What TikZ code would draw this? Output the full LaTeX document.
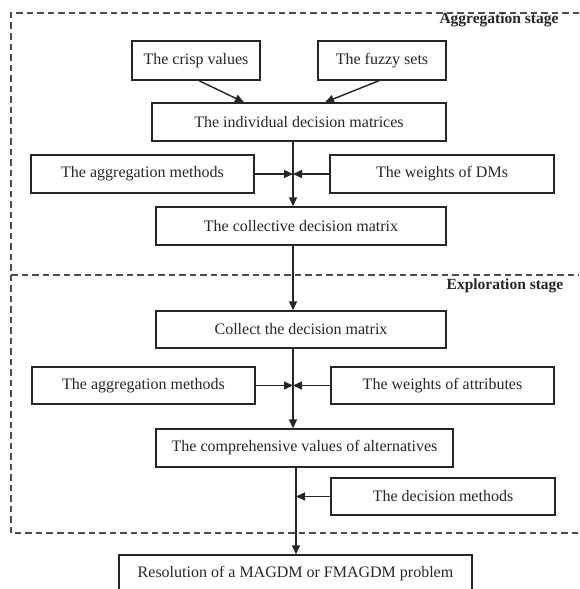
\documentclass[tikz,border=0pt]{standalone}
\usepackage{fontspec}
\setmainfont{Liberation Serif}
\usetikzlibrary{arrows.meta}
\begin{document}
\begin{tikzpicture}[x=1pt,y=-1pt,
  box/.style={draw=black!85, line width=1.4pt, inner sep=0pt, text=black!85, font=\fontsize{16}{18}\selectfont},
  conn/.style={line width=1.4pt, draw=black!85, -{Triangle[length=9pt,width=8pt]}},
  frame/.style={draw=black!70, line width=1.2pt, dash pattern=on 6.5pt off 4pt},
  stage/.style={font=\fontsize{15.5}{18}\selectfont\bfseries, text=black!85, inner sep=0pt, anchor=base}]
\useasboundingbox (0,0) rectangle (579,589);
% dashed stage frames
\draw[frame] (579,13) -- (11,13) -- (11,533) -- (579,533);
\draw[frame] (11,275) -- (579,275);
\node[stage] (aglab) at (499,23.5) {Aggregation stage};
\node[stage] (exlab) at (505,289) {Exploration stage};
% boxes
\node[box, minimum width=128pt, minimum height=39pt] (crisp) at (196,60.5) {The crisp values};
\node[box, minimum width=128pt, minimum height=39pt] (fuzzy) at (382,60.5) {The fuzzy sets};
\node[box, minimum width=294pt, minimum height=38pt] (indiv) at (299,122) {The individual decision matrices};
\node[box, minimum width=223pt, minimum height=38pt] (agg1) at (142.5,174) {The aggregation methods};
\node[box, minimum width=224pt, minimum height=38pt] (wdm) at (442,174) {The weights of DMs};
\node[box, minimum width=290pt, minimum height=38pt] (coll) at (301,226) {The collective decision matrix};
\node[box, minimum width=290pt, minimum height=37pt] (collect) at (301,329.5) {Collect the decision matrix};
\node[box, minimum width=223pt, minimum height=37pt] (agg2) at (143.5,385.5) {The aggregation methods};
\node[box, minimum width=223pt, minimum height=37pt] (watt) at (442.5,385.5) {The weights of attributes};
\node[box, minimum width=297pt, minimum height=38pt] (comp) at (304.5,448) {The comprehensive values of alternatives};
\node[box, minimum width=224pt, minimum height=37pt] (dec) at (443,496.5) {The decision methods};
\node[box, minimum width=353pt, minimum height=38pt] (res) at (295.5,574) {Resolution of a MAGDM or FMAGDM problem};
% spines
\coordinate (s1) at (293,0);
\coordinate (s3) at (296,0);
% connectors
\draw[conn] ([xshift=3pt]crisp.south) -- ([xshift=-55pt]indiv.north);
\draw[conn] ([xshift=-3pt]fuzzy.south) -- ([xshift=26pt]indiv.north);
\draw[conn] (indiv.south -| s1) -- (coll.north -| s1);
\draw[conn] (agg1.east) -- (agg1.east -| s1);
\draw[conn] (wdm.west) -- (wdm.west -| s1);
\draw[conn] (coll.south -| s1) -- (collect.north -| s1);
\draw[conn] (collect.south -| s1) -- (comp.north -| s1);
\draw[conn] (agg2.east) -- (agg2.east -| s1);
\draw[conn] (watt.west) -- (watt.west -| s1);
\draw[conn] (comp.south -| s3) -- (res.north -| s3);
\draw[conn] (dec.west) -- (dec.west -| s3);
\end{tikzpicture}
\end{document}
